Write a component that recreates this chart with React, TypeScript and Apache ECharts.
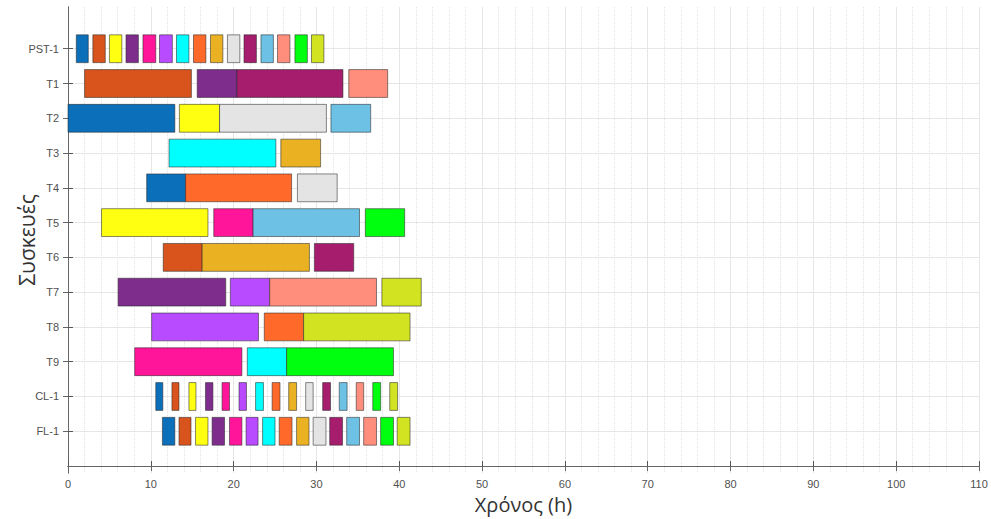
import React, { useEffect, useRef } from "react";
import * as echarts from "echarts";

// Device labels (top to bottom) and their row positions on the y-axis
const devices = ["PST-1", "T1", "T2", "T3", "T4", "T5", "T6", "T7", "T8", "T9", "CL-1", "FL-1"];
const rowPositions = [12, 11, 10, 9, 8, 7, 6, 5, 4, 3, 2, 1];

// Product colours (15 products)
const palette = [
  "#0b6fba", "#d9541c", "#ffff12", "#7e2d8c", "#ff1599",
  "#b84aff", "#00ffff", "#ff6a2b", "#eab122", "#e4e4e4",
  "#a51d6c", "#6cc1e5", "#ff8f7c", "#00ff0e", "#d2e322",
];

// Tasks per device: [start (h), end (h), product index]
const PST1 = [
  [1.0, 2.45, 0], [3.0, 4.5, 1], [5.0, 6.5, 2], [7.0, 8.5, 3], [9.05, 10.6, 4],
  [11.05, 12.6, 5], [13.1, 14.6, 6], [15.15, 16.65, 7], [17.2, 18.7, 8], [19.25, 20.75, 9],
  [21.25, 22.75, 10], [23.3, 24.8, 11], [25.3, 26.8, 12], [27.4, 28.9, 13], [29.4, 30.9, 14],
];
const T1 = [[2.0, 14.9, 1], [15.6, 20.4, 3], [20.4, 33.2, 10], [33.9, 38.6, 12]];
const T2 = [[0.0, 12.9, 0], [13.45, 18.3, 2], [18.3, 31.2, 9], [31.75, 36.55, 11]];
const T3 = [[12.2, 25.1, 6], [25.7, 30.5, 8]];
const T4 = [[9.5, 14.2, 0], [14.2, 27.0, 7], [27.7, 32.5, 9]];
const T5 = [[4.05, 16.9, 2], [17.6, 22.35, 4], [22.35, 35.2, 11], [35.9, 40.65, 13]];
const T6 = [[11.5, 16.2, 1], [16.2, 29.15, 8], [29.75, 34.5, 10]];
const T7 = [[6.05, 19.05, 3], [19.6, 24.35, 5], [24.35, 37.25, 12], [37.9, 42.65, 14]];
const T8 = [[10.1, 23.0, 5], [23.7, 28.45, 7], [28.45, 41.3, 14]];
const T9 = [[8.05, 21.0, 4], [21.65, 26.4, 6], [26.4, 39.3, 13]];
const CL1 = [
  [10.6, 11.45, 0], [12.55, 13.4, 1], [14.6, 15.45, 2], [16.6, 17.5, 3], [18.6, 19.5, 4],
  [20.65, 21.55, 5], [22.65, 23.6, 6], [24.65, 25.6, 7], [26.65, 27.6, 8], [28.7, 29.6, 9],
  [30.75, 31.7, 10], [32.75, 33.7, 11], [34.8, 35.7, 12], [36.8, 37.75, 13], [38.85, 39.8, 14],
];
const FL1 = [
  [11.4, 12.9, 0], [13.4, 14.85, 1], [15.4, 16.9, 2], [17.4, 18.9, 3], [19.5, 21.0, 4],
  [21.5, 22.95, 5], [23.5, 25.0, 6], [25.5, 27.05, 7], [27.6, 29.1, 8], [29.6, 31.15, 9],
  [31.6, 33.15, 10], [33.65, 35.2, 11], [35.7, 37.25, 12], [37.75, 39.3, 13], [39.75, 41.3, 14],
];
const deviceTasks = [PST1, T1, T2, T3, T4, T5, T6, T7, T8, T9, CL1, FL1];

const xTicks = { min: 0, max: 110, interval: 10 };

export default function App() {
  const ref = useRef<HTMLDivElement>(null);

  useEffect(() => {
    if (!ref.current) return;
    const chart = echarts.init(ref.current, undefined, { renderer: "svg" });

    const data: number[][] = [];
    deviceTasks.forEach((tasks, i) => {
      tasks.forEach((t) => data.push([rowPositions[i], t[0], t[1], t[2]]));
    });

    const labelOf = (v: number) => {
      const idx = rowPositions.indexOf(Math.round(v));
      return idx >= 0 ? devices[idx] : "";
    };

    const tickFont = {
      color: "#505050",
      fontSize: 11,
      fontFamily: "Liberation Sans, Arial, sans-serif",
    };

    const gridLine = { show: true, lineStyle: { color: "#e6e6e6", width: 1 } };

    chart.setOption({
      animation: false,
      backgroundColor: "#ffffff",
      grid: { left: 68, right: 12, top: 7, bottom: 46, containLabel: false, outerBoundsMode: "none" },
      xAxis: [
        {
          type: "value",
          min: xTicks.min,
          max: xTicks.max,
          interval: xTicks.interval,
          position: "bottom",
          name: "Χρόνος (h)",
          nameLocation: "middle",
          nameGap: 21,
          nameMoveOverlap: false,
          nameTextStyle: { fontSize: 20, color: "#333", fontFamily: "Open Sans, Noto Sans, sans-serif" },
          axisLine: { show: true, lineStyle: { color: "#555", width: 1 } },
          axisTick: { show: true, inside: true, length: 5, lineStyle: { color: "#555" } },
          axisLabel: { ...tickFont, margin: 5 },
          splitLine: gridLine,
          minorTick: { show: false, splitNumber: 5 },
          minorSplitLine: { show: true, lineStyle: { color: "#e3e3e3", type: "dotted", width: 1 } },
        },
        {
          type: "value",
          min: xTicks.min,
          max: xTicks.max,
          interval: xTicks.interval,
          position: "top",
          axisLine: { show: true, lineStyle: { color: "#666", width: 1 } },
          axisTick: { show: true, inside: true, length: 5, lineStyle: { color: "#666" } },
          axisLabel: { show: false },
          splitLine: { show: false },
        },
      ],
      yAxis: [
        {
          type: "value",
          min: -0.2,
          max: 13.2,
          position: "left",
          name: "Συσκευές",
          nameLocation: "middle",
          nameGap: 31,
          nameRotate: 90,
          nameMoveOverlap: false,
          nameTextStyle: { fontSize: 21, color: "#333", fontFamily: "Open Sans, Noto Sans, sans-serif" },
          axisLine: { show: true, lineStyle: { color: "#555", width: 1 } },
          axisTick: { show: true, inside: true, length: 5, customValues: rowPositions, lineStyle: { color: "#555" } },
          axisLabel: { ...tickFont, margin: 9, customValues: rowPositions, formatter: (v: number) => labelOf(v) },
          splitLine: gridLine,
        },
        {
          type: "value",
          min: -0.2,
          max: 13.2,
          position: "right",
          axisLine: { show: true, lineStyle: { color: "#666", width: 1 } },
          axisTick: { show: true, inside: true, length: 5, customValues: rowPositions, lineStyle: { color: "#666" } },
          axisLabel: { show: false, customValues: rowPositions },
          splitLine: { show: false },
        },
      ],
      series: [
        {
          type: "custom",
          xAxisIndex: 0,
          yAxisIndex: 0,
          encode: { x: [1, 2], y: 0 },
          data,
          renderItem: (params: any, api: any) => {
            const row = api.value(0);
            const s = api.coord([api.value(1), row]);
            const e = api.coord([api.value(2), row]);
            const h = api.size([0, 0.8])[1];
            return {
              type: "rect",
              shape: { x: s[0], y: s[1] - h / 2, width: e[0] - s[0], height: h },
              style: {
                fill: palette[api.value(3)],
                stroke: "rgba(40,40,40,0.55)",
                lineWidth: 1,
              },
            };
          },
        },
      ],
    });

    return () => chart.dispose();
  }, []);

  return (
    <div
      ref={ref}
      style={{ position: "fixed", left: 0, top: 0, width: 991, height: 519, background: "#fff" }}
    />
  );
}
